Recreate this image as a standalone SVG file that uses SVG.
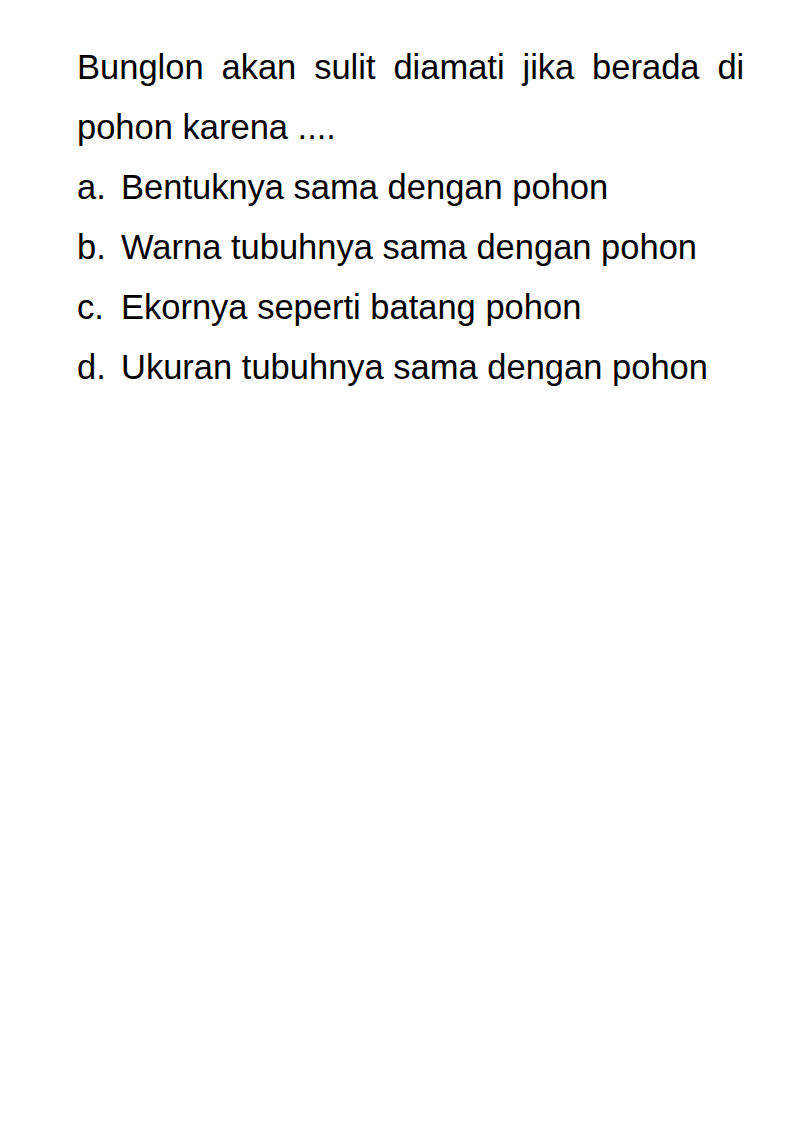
<svg xmlns="http://www.w3.org/2000/svg" width="794" height="1123" viewBox="0 0 794 1123">
<style>
text{font-family:"Liberation Sans",Arial,sans-serif;font-size:34.5px;fill:#000}
</style>
<rect width="794" height="1123" fill="#fff"/>
<g id="question">
<text x="77" y="79">Bunglon</text>
<text x="221.5" y="79">akan</text>
<text x="314.2" y="79">sulit</text>
<text x="393.4" y="79">diamati</text>
<text x="522.5" y="79">jika</text>
<text x="592.1" y="79">berada</text>
<text x="717.4" y="79">di</text>
<text x="77" y="139">pohon karena ....</text>
</g>
<g id="option-a"><text x="77" y="199">a.</text><text x="121" y="199">Bentuknya sama dengan pohon</text></g>
<g id="option-b"><text x="77" y="259">b.</text><text x="121" y="259">Warna tubuhnya sama dengan pohon</text></g>
<g id="option-c"><text x="77" y="319">c.</text><text x="121" y="319">Ekornya seperti batang pohon</text></g>
<g id="option-d"><text x="77" y="379">d.</text><text x="121" y="379">Ukuran tubuhnya sama dengan pohon</text></g>
</svg>
